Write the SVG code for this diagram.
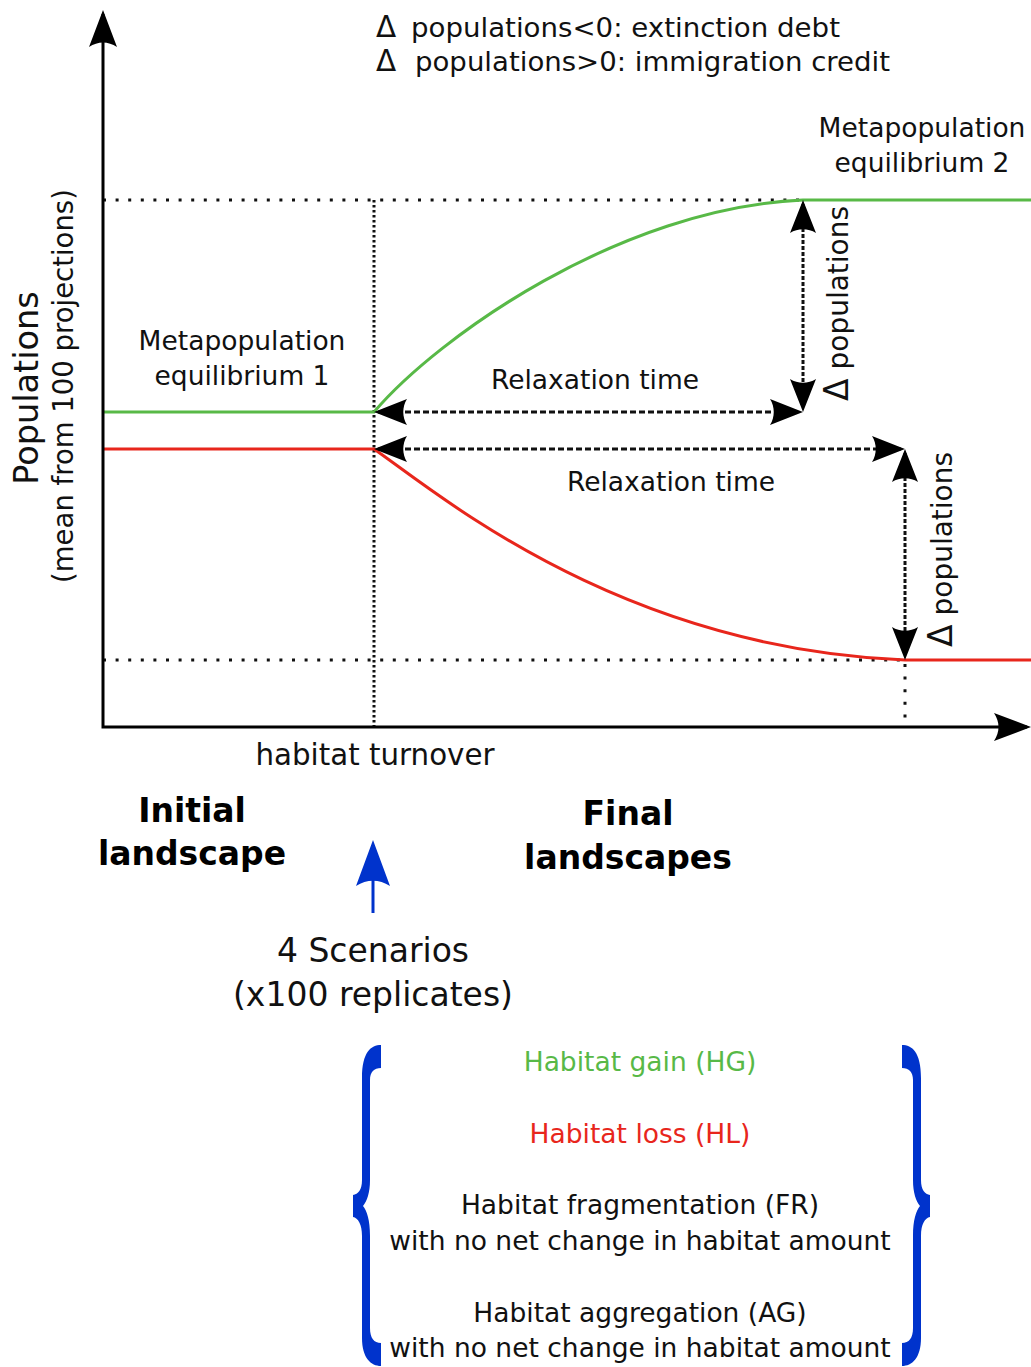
<svg xmlns="http://www.w3.org/2000/svg" width="1031" height="1367" viewBox="0 0 1031 1367">
<style>
.t{font-family:"DejaVu Sans","Noto Sans",sans-serif;font-size:26.5px;fill:#111}
.b{font-family:"DejaVu Sans","Noto Sans",sans-serif;font-weight:bold;font-size:33px;fill:#000}
.m{text-anchor:middle}
.d{font-size:33px}
.dl{font-size:29.5px}
.dot{fill:none;stroke:#111;stroke-width:3}
.dash{fill:none;stroke:#111;stroke-width:3}
.g{fill:none;stroke:#58b947;stroke-width:3}
.r{fill:none;stroke:#e8261c;stroke-width:3}
.brace{fill:#0033cc}
</style>
<defs>
<marker id="ah" markerUnits="userSpaceOnUse" orient="auto-start-reverse" refX="0" refY="0" markerWidth="40" markerHeight="30" overflow="visible">
<path d="M4,0 L-29,-13 C-24,-5 -24,5 -29,13 Z" fill="#000"/>
</marker>
<marker id="axh" markerUnits="userSpaceOnUse" orient="auto-start-reverse" refX="0" refY="0" markerWidth="44" markerHeight="32" overflow="visible">
<path d="M4,0 L-33,-14 C-27,-5 -27,5 -33,14 Z" fill="#000"/>
</marker>
<marker id="bh" markerUnits="userSpaceOnUse" orient="auto" refX="0" refY="0" markerWidth="50" markerHeight="40" overflow="visible">
<path d="M5,0 L-41,-17 C-34,-6 -34,6 -41,17 Z" fill="#0033cc"/>
</marker>
<path id="lbrace" class="brace" d="M381,1045 C371,1045 362,1052 362,1078 L362,1180 C362,1190 358,1194 353,1195 L353,1217 C358,1218 362,1224 362,1236 L362,1338 C362,1358 371,1366 381,1366 L381,1343 C374,1343 370,1338 370,1328 L370,1236 C370,1220 367,1211 363,1206 C367,1201 370,1193 370,1180 L370,1080 C370,1072 374,1068 381,1068 Z"/>
</defs>

<g id="guides">
<path class="dot" stroke-dasharray="3,9.6" d="M103,200 H803"/>
<path class="dot" stroke-dasharray="3,9.6" d="M103,660 H905"/>
<path class="dot" stroke-width="2.5" stroke-dasharray="2.5,2.5" d="M374,200 V727"/>
<path class="dot" stroke-dasharray="3,9.6" d="M905,664 V727"/>
</g>

<g id="curve-gain">
<path class="g" d="M103,412 H374 C438,337 620,208 803,200 H1031"/>
</g>
<g id="curve-loss">
<path class="r" d="M103,449 H374 C440,495 620,648 905,660 H1031"/>
</g>

<g id="connectors">
<path class="dash" stroke-dasharray="6,3" marker-start="url(#ah)" marker-end="url(#ah)" d="M378,412 H799"/>
<path class="dash" stroke-dasharray="4,2" marker-start="url(#ah)" marker-end="url(#ah)" d="M803,204 V408"/>
<path class="dash" stroke-dasharray="6,3" marker-start="url(#ah)" marker-end="url(#ah)" d="M378,449 H901"/>
<path class="dash" stroke-dasharray="4,2" marker-start="url(#ah)" marker-end="url(#ah)" d="M905,453 V656"/>
<path fill="none" stroke="#000" stroke-width="3" marker-start="url(#axh)" marker-end="url(#axh)" d="M103,14 V727 H1027"/>
<path fill="none" stroke="#0033cc" stroke-width="3" marker-end="url(#bh)" d="M373,913 V845"/>
</g>

<g id="legend">
<text class="t" y="37"><tspan class="dl" x="376">Δ</tspan><tspan x="411" textLength="429" lengthAdjust="spacingAndGlyphs">populations&lt;0: extinction debt</tspan></text>
<text class="t" y="71"><tspan class="dl" x="376">Δ</tspan><tspan x="415" textLength="475" lengthAdjust="spacingAndGlyphs">populations&gt;0: immigration credit</tspan></text>
</g>

<g id="ylabel">
<text class="t m" style="font-size:33.5px" transform="translate(38,388) rotate(-90)">Populations</text>
<text class="t m" style="font-size:27.5px" transform="translate(73,386) rotate(-90)">(mean from 100 projections)</text>
</g>

<g id="eq1">
<text class="t m" x="242" y="350">Metapopulation</text>
<text class="t m" x="242" y="385">equilibrium 1</text>
</g>
<g id="eq2">
<text class="t m" x="922" y="137">Metapopulation</text>
<text class="t m" x="922" y="172">equilibrium 2</text>
</g>

<g id="relax1"><text class="t m" x="595" y="389">Relaxation time</text></g>
<g id="relax2"><text class="t m" x="671" y="491">Relaxation time</text></g>
<g id="dpop1"><text class="t" style="font-size:28px" transform="translate(848,401) rotate(-90)"><tspan class="d">Δ</tspan> populations</text></g>
<g id="dpop2"><text class="t" style="font-size:28px" transform="translate(952,647) rotate(-90)"><tspan class="d">Δ</tspan> populations</text></g>

<g id="xlabel"><text class="t m" style="font-size:29.3px" x="375" y="765">habitat turnover</text></g>

<g id="initial">
<text class="b m" x="192" y="822">Initial</text>
<text class="b m" x="192" y="865">landscape</text>
</g>
<g id="final">
<text class="b m" x="628" y="825">Final</text>
<text class="b m" x="628" y="869">landscapes</text>
</g>

<g id="scenarios">
<text class="t m" style="font-size:33px" x="373" y="962">4 Scenarios</text>
<text class="t m" style="font-size:33px" x="373" y="1006">(x100 replicates)</text>
</g>

<g id="scenario-list">
<use href="#lbrace"/>
<use href="#lbrace" transform="translate(1283,0) scale(-1,1)"/>
<text class="t m" x="640" y="1071" style="fill:#58b947">Habitat gain (HG)</text>
<text class="t m" x="640" y="1143" style="fill:#e8261c">Habitat loss (HL)</text>
<text class="t m" x="640" y="1214">Habitat fragmentation (FR)</text>
<text class="t m" x="640" y="1250">with no net change in habitat amount</text>
<text class="t m" x="640" y="1322">Habitat aggregation (AG)</text>
<text class="t m" x="640" y="1357">with no net change in habitat amount</text>
</g>
</svg>
